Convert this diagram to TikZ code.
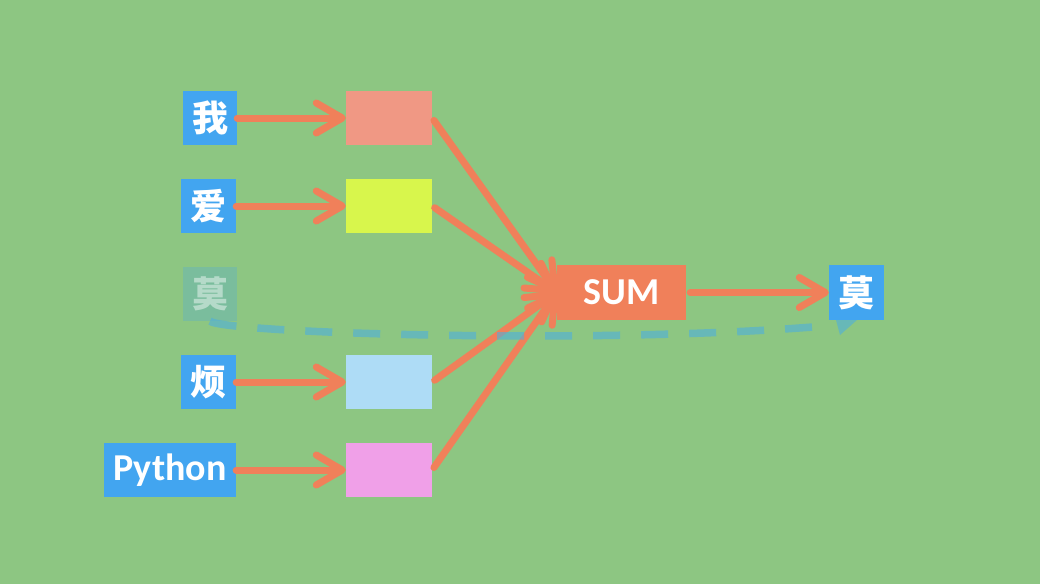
\documentclass[tikz,border=0pt]{standalone}
\usepackage{fontspec}
\setmainfont{Carlito}
\newfontfamily\cjk{Noto Sans CJK SC}
\usetikzlibrary{arrows.meta}
\definecolor{bg}{HTML}{8DC682}
\definecolor{blu}{HTML}{42A5F0}
\definecolor{tealb}{HTML}{4FAFDC}
\definecolor{org}{HTML}{F0805A}
\definecolor{c1}{HTML}{F09884}
\definecolor{c2}{HTML}{D8F64C}
\definecolor{c3}{HTML}{AEDCF6}
\definecolor{c4}{HTML}{F0A0E8}
\begin{document}
\begin{tikzpicture}[x=1pt,y=-1pt,
  word/.style={fill=blu,text=white,inner sep=0pt,minimum width=54pt,minimum height=54pt,
    font=\cjk\bfseries\fontsize{36}{36}\selectfont},
  latin/.style={fill=blu,text=white,inner sep=0pt,minimum height=54pt,
    font=\bfseries\fontsize{38}{38}\selectfont},
  emb/.style={inner sep=0pt,minimum width=86pt,minimum height=54pt},
  arr/.style={draw=org,line width=7pt,line cap=round,
    -{Straight Barb[length=26pt,width=30pt,round]}},
  dashline/.style={draw=tealb,draw opacity=0.6,line width=7.5pt,dash pattern=on 27pt off 21pt}]
\useasboundingbox[fill=bg] (0,0) rectangle (1040,584);
% input words
\node[word] (w1) at (210,118) {我};
\node[word,minimum width=55pt] (w2) at (208.5,206) {爱};
\node[word,fill opacity=0.25,text opacity=0.45] (w3) at (210,294) {莫};
\node[word,minimum width=55pt] (w4) at (208.5,382) {烦};
\node[latin,minimum width=132pt] (w5) at (170,470) {Python};
% embeddings
\node[emb,fill=c1] (b1) at (389,118) {};
\node[emb,fill=c2] (b2) at (389,206) {};
\node[emb,fill=c3] (b4) at (389,382) {};
\node[emb,fill=c4] (b5) at (389,470) {};
% sum and output
\node[fill=org,text=white,inner sep=0pt,minimum width=129pt,minimum height=55pt,
  font=\bfseries\fontsize{38}{38}\selectfont] (sum) at (621.5,292.5) {SUM};
\node[word,minimum width=55pt,minimum height=55pt] (out) at (856.5,292.5) {莫};
% arrows
\draw[arr] (w1.east) -- (b1.west);
\draw[arr] (w2.east) -- (b2.west);
\draw[arr] (w4.east) -- (b4.west);
\draw[arr] (w5.east) -- (b5.west);
\draw[arr,shorten <=3pt] (b1.east) -- (sum.west);
\draw[arr,shorten <=3pt] (b2.east) -- (sum.west);
\draw[arr,shorten <=3pt] (b4.east) -- (sum.west);
\draw[arr,shorten <=3pt] (b5.east) -- (sum.west);
\draw[arr,shorten <=4pt] (sum.east) -- (out.west);
% dashed link
\coordinate (dend) at (825,326);
\draw[dashline] (w3.south) .. controls (225,333) and (600,345) .. (dend);
\fill[tealb,fill opacity=0.6] (836,320) -- (857,320) -- (840,335) -- cycle;
\end{tikzpicture}
\end{document}
